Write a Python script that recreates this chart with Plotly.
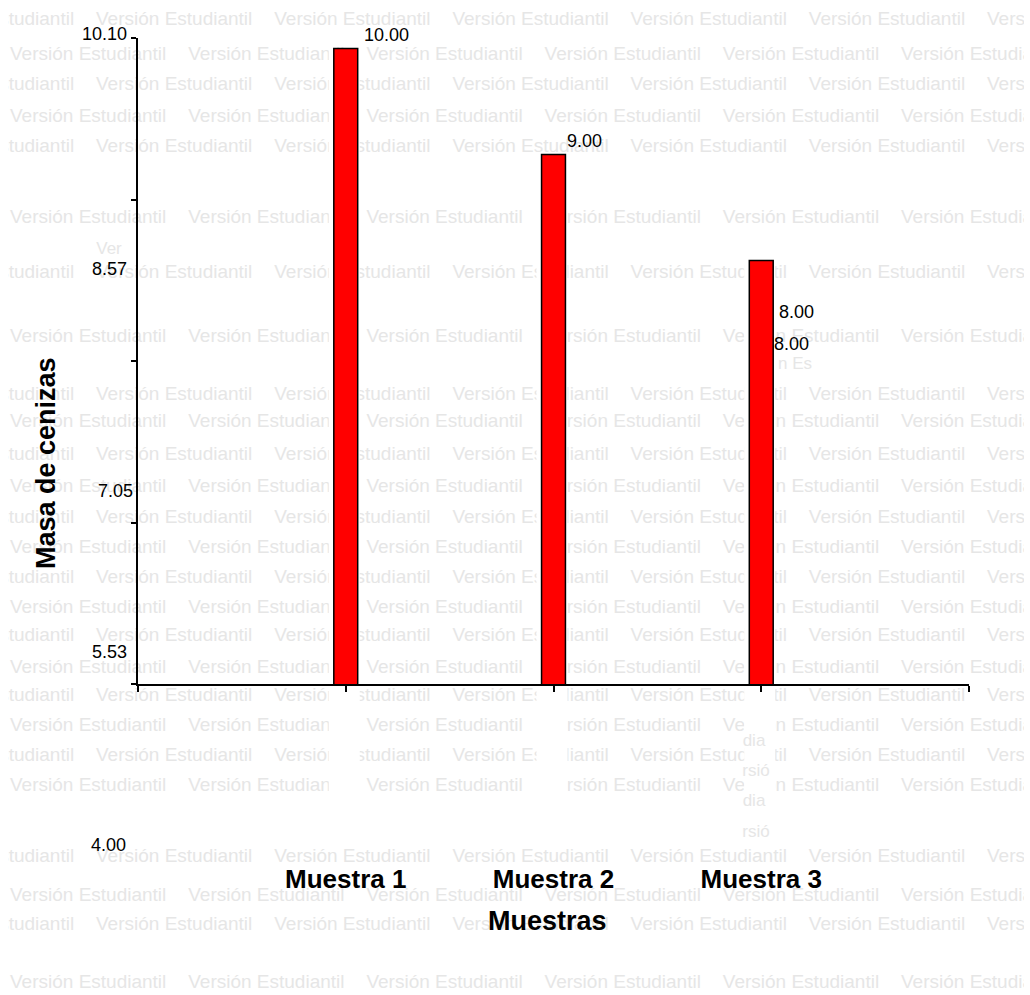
import plotly.graph_objects as go

# ---------------- data ----------------
categories = ["Muestra 1", "Muestra 2", "Muestra 3"]
cat_pos = [1, 2, 3]
masa_cenizas = [10.00, 9.00, 8.00]
y_tick_vals = [4.00, 5.525, 7.05, 8.575, 10.10]
y_tick_text = ["4.00", "5.53", "7.05", "8.57", "10.10"]
value_label_index = [0, 1, 2, 2]          # the 3rd bar's label appears twice
x_title = "Muestras"
y_title = "Masa de cenizas"
watermark = "Versión Estudiantil"

# ---------------- layout geometry (px) ----------------
W, H = 1030, 995
PL, PR, PT, PB = 138, 969, 38, 684            # plot box
WM_L, WM_R = 8, 1024                          # watermark clip band
X_RANGE = [0, 4]
Y_RANGE = [4.0, 10.10]
FONT = "Liberation Sans, Arial, sans-serif"

# displaced tick-label offsets (px), same order as y_tick_vals
ytick_dy = [-161, -129, -130, -69, 4]
ytick_dx = [-10, -9, -3, -9, -9]
# value-label offsets (px) relative to bar centre / top
val_dx = [16, 11, 16, 11]
val_dy = [14, 13, -52, -84]

fig = go.Figure()

# ---------------- watermark (full page subplot) ----------------
rows = [(20, "A"), (55, "B"), (85, "A"), (117, "B"), (147, "A"), (218, "B"),
        (273, "A"), (337, "B"), (395, "A"), (422, "B"), (455, "A"), (487, "B"),
        (518, "A"), (548, "B"), (578, "A"), (608, "B"), (636, "A"), (668, "B"),
        (696, "A"), (726, "B"), (756, "A"), (786, "B"), (857, "A"), (896, "B"),
        (925, "A"), (983, "B")]
period = 178.2
start = {"A": -81.2 - 1, "B": 10}
wx, wy, wt = [], [], []
for yy, kind in rows:
    x = start[kind]
    while x < W:
        wx.append(x); wy.append(yy); wt.append(watermark)
        x += period
# stray fragments
frags = [("Ver", 109, 250), ("n Es", 795, 365), ("dia", 754, 742), ("rsió", 756, 772),
         ("dia", 754, 802), ("rsió", 756, 833)]
WM_COLOR = "#e6e6e6"
fig.add_trace(go.Scatter(x=wx, y=wy, text=wt, mode="text", textposition="middle right",
                         textfont=dict(family=FONT, size=19, color=WM_COLOR),
                         hoverinfo="skip", xaxis="x", yaxis="y", cliponaxis=True))

# white gaps in the watermark around each bar
ppu_x = (PR - PL) / (X_RANGE[1] - X_RANGE[0])
ppu_y = (PB - PT) / (Y_RANGE[1] - Y_RANGE[0])
for c, v in zip(cat_pos, masa_cenizas):
    cx = PL + (c - X_RANGE[0]) * ppu_x
    top = PT + (Y_RANGE[1] - v) * ppu_y
    a, b = cx - 17, cx + 14
    fig.add_trace(go.Scatter(x=[a, b, b, a, a], y=[top, top, 800, 800, top],
                             mode="lines", fill="toself", fillcolor="white",
                             line=dict(color="white", width=0), hoverinfo="skip",
                             xaxis="x", yaxis="y"))

fig.add_trace(go.Scatter(x=[f[1] for f in frags], y=[f[2] for f in frags],
                         text=[f[0] for f in frags], mode="text", textposition="middle center",
                         textfont=dict(family=FONT, size=17, color=WM_COLOR),
                         hoverinfo="skip", xaxis="x", yaxis="y"))

# ---------------- bars ----------------
fig.add_trace(go.Bar(x=cat_pos, y=masa_cenizas, width=0.115, xaxis="x2", yaxis="y2",
                     marker=dict(color="#ff0000", line=dict(color="black", width=1.5)),
                     hoverinfo="skip"))

annotations = []
for v, lab, dy, dx in zip(y_tick_vals, y_tick_text, ytick_dy, ytick_dx):
    annotations.append(dict(x=0, xref="x2 domain", y=v, yref="y2", text=lab,
                            xanchor="right", yanchor="middle", xshift=dx, yshift=dy,
                            showarrow=False, font=dict(family=FONT, size=18, color="black")))
for k, i in enumerate(value_label_index):
    annotations.append(dict(x=cat_pos[i], xref="x2", y=masa_cenizas[i], yref="y2",
                            text=f"{masa_cenizas[i]:.2f}", xanchor="left", yanchor="middle",
                            xshift=val_dx[k], yshift=val_dy[k], showarrow=False,
                            font=dict(family=FONT, size=18, color="black")))
annotations.append(dict(x=547 / W, y=1 - 921 / H, xref="paper", yref="paper", text=x_title,
                        showarrow=False, xanchor="center", yanchor="middle",
                        font=dict(family=FONT, size=27, color="black", weight="bold")))
annotations.append(dict(x=46 / W, y=1 - 463 / H, xref="paper", yref="paper", text=y_title,
                        textangle=-90, showarrow=False, xanchor="center", yanchor="middle",
                        font=dict(family=FONT, size=27, color="black", weight="bold")))

fig.update_layout(
    width=W, height=H, margin=dict(l=0, r=0, t=0, b=0),
    paper_bgcolor="white", plot_bgcolor="rgba(0,0,0,0)", showlegend=False,
    xaxis=dict(domain=[WM_L / W, WM_R / W], range=[WM_L, WM_R], visible=False, fixedrange=True),
    yaxis=dict(domain=[0, 1], range=[H, 0], visible=False, fixedrange=True),
    xaxis2=dict(domain=[PL / W, PR / W], anchor="y2", range=X_RANGE,
                tickvals=[0] + cat_pos + [4], ticktext=[""] + categories + [""],
                ticks="outside", ticklen=6, tickwidth=1.5, tickcolor="black",
                showline=True, linecolor="black", linewidth=1.5,
                showgrid=False, zeroline=False, ticklabelstandoff=165,
                tickfont=dict(family=FONT, size=26, color="black", weight="bold")),
    yaxis2=dict(domain=[1 - PB / H, 1 - PT / H], anchor="x2", range=Y_RANGE,
                tickvals=y_tick_vals, showticklabels=False,
                ticks="outside", ticklen=5, tickwidth=1.5, tickcolor="black",
                showline=True, linecolor="black", linewidth=1.5,
                showgrid=False, zeroline=False),
    annotations=annotations,
)

fig.write_html("out.html", config={"displayModeBar": False},
               post_script="document.body.style.margin='0px';document.body.style.overflow='hidden';")
